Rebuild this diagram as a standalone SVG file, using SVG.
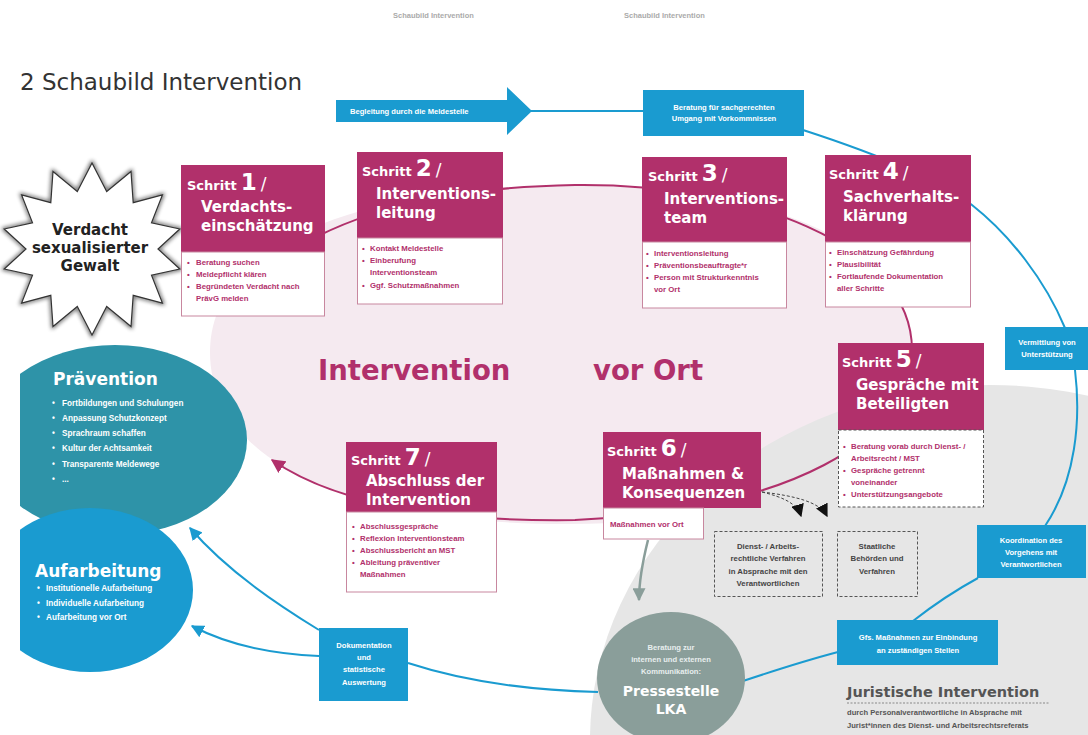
<svg xmlns="http://www.w3.org/2000/svg" width="1088" height="735" viewBox="0 0 1088 735">
<defs>
<style>
.hdr{fill:#b1306b}
.body{fill:#fff;stroke:#c8879f;stroke-width:1}
.sch{font-family:"DejaVu Sans",sans-serif;font-weight:bold;font-size:13px;fill:#fff}
.num{font-size:23px}
.sl{font-size:17px;font-weight:normal}
.ttl{font-family:"DejaVu Sans",sans-serif;font-weight:bold;font-size:15px;fill:#fff}
.bt{font-family:"Liberation Sans",Arial,sans-serif;font-weight:bold;font-size:7.8px;fill:#b1306b}
.wt{font-family:"Liberation Sans",Arial,sans-serif;font-weight:bold;font-size:7.6px;fill:#fff;text-anchor:middle}
.pt{font-family:"Liberation Sans",Arial,sans-serif;font-weight:bold;font-size:8.2px;fill:#fff}
.dt{font-family:"Liberation Sans",Arial,sans-serif;font-weight:bold;font-size:7.8px;fill:#444;text-anchor:middle}
.bbox{fill:#1a9bd0}
.bl{fill:none;stroke:#1a9bd0;stroke-width:2}
.ml{fill:none;stroke:#b1306b;stroke-width:2}
.dash{fill:none;stroke:#444;stroke-width:1;stroke-dasharray:3 2}
</style>
<marker id="mM" viewBox="0 0 10 10" refX="9" refY="5" markerWidth="14" markerHeight="14" markerUnits="userSpaceOnUse" orient="auto"><path d="M0,0 L10,5 L0,10 z" fill="#b1306b"/></marker>
<marker id="mB" viewBox="0 0 10 10" refX="9" refY="5" markerWidth="13" markerHeight="13" markerUnits="userSpaceOnUse" orient="auto"><path d="M0,0 L10,5 L0,10 z" fill="#1a9bd0"/></marker>
<marker id="mG" viewBox="0 0 10 10" refX="9" refY="5" markerWidth="13" markerHeight="13" markerUnits="userSpaceOnUse" orient="auto"><path d="M0,0 L10,5 L0,10 z" fill="#8a9e9a"/></marker>
<marker id="mK" viewBox="0 0 10 10" refX="9" refY="5" markerWidth="13" markerHeight="13" markerUnits="userSpaceOnUse" orient="auto"><path d="M0,0 L10,5 L0,10 z" fill="#111"/></marker>
<clipPath id="leftClip"><rect x="20" y="0" width="1068" height="735"/></clipPath>
<filter id="glow" x="-20%" y="-20%" width="140%" height="140%"><feGaussianBlur stdDeviation="2"/></filter>
</defs>
<rect width="1088" height="735" fill="#fff"/>

<g id="header">
<text x="393" y="18" font-family="Liberation Sans, Arial, sans-serif" font-weight="bold" font-size="7.5" fill="#aaa">Schaubild Intervention</text>
<text x="624" y="18" font-family="Liberation Sans, Arial, sans-serif" font-weight="bold" font-size="7.5" fill="#aaa">Schaubild Intervention</text>
<text x="20" y="90" font-family="DejaVu Sans, sans-serif" font-size="23" fill="#333">2 Schaubild Intervention</text>
</g>

<g id="backgrounds">
<path id="interventionArea" d="M210,352 C210,250 345,186 575,186 C785,186 912,250 912,352 C912,460 785,524 565,524 C345,524 210,460 210,352 Z" fill="#f5eaf0"/>
<ellipse id="juristischArea" cx="990" cy="740" rx="400" ry="355" fill="#e6e6e6"/>
<g clip-path="url(#leftClip)">
<ellipse id="praeventionShape" cx="115" cy="440" rx="132" ry="95" fill="#2e93a8"/>
<ellipse id="aufarbeitungShape" cx="90" cy="590" rx="103" ry="82" fill="#1a9bd0"/>
</g>
</g>

<g id="connectors">
<path class="ml" d="M318,236 C385,203 465,187 575,185 C745,183 912,243 912,350 C912,440 790,510 575,520 C430,522 330,500 272,460" marker-end="url(#mM)"/>
<line class="bl" x1="531" y1="111" x2="644" y2="111"/>
<path class="bl" d="M803,130 C880,155 940,180 972,205 C1010,235 1045,280 1065,328"/>
<path class="bl" d="M1075,370 C1081,420 1076,480 1045,526"/>
<path class="bl" d="M978,578 Q945,596 913,621"/>
<path class="bl" d="M838,652 C800,662 770,672 743,681"/>
<path class="bl" d="M598,692 C520,690 460,680 408,663"/>
<path class="bl" d="M319,630 C280,606 228,572 190,528" marker-end="url(#mB)"/>
<path class="bl" d="M319,656 C270,654 228,645 192,626" marker-end="url(#mB)"/>
<path d="M648,540 C643,560 639,578 639,600" fill="none" stroke="#8a9e9a" stroke-width="2.5" marker-end="url(#mG)"/>
<path class="dash" d="M762,492 C782,497 797,503 801,516" marker-end="url(#mK)"/>
<path class="dash" d="M762,492 C795,496 820,502 827,516" marker-end="url(#mK)"/>
</g>

<g id="bigLabels">
<text x="318" y="380" font-family="DejaVu Sans, sans-serif" font-weight="bold" font-size="27.5" fill="#b1306b">Intervention</text>
<text x="593" y="380" font-family="DejaVu Sans, sans-serif" font-weight="bold" font-size="27.5" fill="#b1306b">vor Ort</text>
</g>

<g id="verdacht">
<polygon points="92,163 106.7,191.5 131,171.5 133.2,202.7 162.4,195 151.5,222.8 179.8,229 158,249 179.8,269 151.5,275.2 162.4,303 133.2,295.3 131,326.5 106.7,306.5 92,335 77.3,306.5 53,326.5 50.8,295.3 21.6,303 32.5,275.2 4.2,269 26,249 4.2,229 32.5,222.8 21.6,195 50.8,202.7 53,171.5 77.3,191.5" fill="none" stroke="#000" stroke-width="3" opacity="0.7" filter="url(#glow)"/>
<polygon points="92,163 106.7,191.5 131,171.5 133.2,202.7 162.4,195 151.5,222.8 179.8,229 158,249 179.8,269 151.5,275.2 162.4,303 133.2,295.3 131,326.5 106.7,306.5 92,335 77.3,306.5 53,326.5 50.8,295.3 21.6,303 32.5,275.2 4.2,269 26,249 4.2,229 32.5,222.8 21.6,195 50.8,202.7 53,171.5 77.3,191.5" fill="#fff" stroke="#333" stroke-width="1.2"/>
<text font-family="DejaVu Sans, sans-serif" font-weight="bold" font-size="15" fill="#222" text-anchor="middle"><tspan x="90" y="235">Verdacht</tspan><tspan x="90" y="253">sexualisierter</tspan><tspan x="90" y="271">Gewalt</tspan></text>
</g>

<g id="step1">
<rect class="hdr" x="181" y="165" width="144" height="87"/>
<rect class="body" x="181.5" y="252" width="143" height="64"/>
<text class="sch" x="187" y="190">Schritt<tspan class="num" dx="4">1</tspan><tspan class="sl" dx="4">/</tspan></text>
<text class="ttl" x="201" y="212">Verdachts-</text>
<text class="ttl" x="201" y="231">einschätzung</text>
<text class="bt"><tspan x="187" y="265">•</tspan><tspan x="196" y="265">Beratung suchen</tspan></text>
<text class="bt"><tspan x="187" y="277">•</tspan><tspan x="196" y="277">Meldepflicht klären</tspan></text>
<text class="bt"><tspan x="187" y="289">•</tspan><tspan x="196" y="289">Begründeten Verdacht nach</tspan></text>
<text class="bt" x="196" y="301">PrävG melden</text>
</g>

<g id="step2">
<rect class="hdr" x="357" y="152" width="146" height="86"/>
<rect class="body" x="357.5" y="238" width="145" height="66"/>
<text class="sch" x="362" y="176">Schritt<tspan class="num" dx="4">2</tspan><tspan class="sl" dx="4">/</tspan></text>
<text class="ttl" x="376" y="199">Interventions-</text>
<text class="ttl" x="376" y="218">leitung</text>
<text class="bt"><tspan x="362" y="251">•</tspan><tspan x="370" y="251">Kontakt Meldestelle</tspan></text>
<text class="bt"><tspan x="362" y="263">•</tspan><tspan x="370" y="263">Einberufung</tspan></text>
<text class="bt" x="370" y="275">Interventionsteam</text>
<text class="bt"><tspan x="362" y="288">•</tspan><tspan x="370" y="288">Ggf. Schutzmaßnahmen</tspan></text>
</g>

<g id="step3">
<rect class="hdr" x="642" y="157" width="145" height="85"/>
<rect class="body" x="642.5" y="242" width="144" height="66"/>
<text class="sch" x="648" y="181">Schritt<tspan class="num" dx="4">3</tspan><tspan class="sl" dx="4">/</tspan></text>
<text class="ttl" x="664" y="204">Interventions-</text>
<text class="ttl" x="664" y="223">team</text>
<text class="bt"><tspan x="646" y="256">•</tspan><tspan x="654" y="256">Interventionsleitung</tspan></text>
<text class="bt"><tspan x="646" y="268">•</tspan><tspan x="654" y="268">Präventionsbeauftragte*r</tspan></text>
<text class="bt"><tspan x="646" y="280">•</tspan><tspan x="654" y="280">Person mit Strukturkenntnis</tspan></text>
<text class="bt" x="654" y="292">vor Ort</text>
</g>

<g id="step4">
<rect class="hdr" x="825" y="155" width="146" height="87"/>
<rect class="body" x="825.5" y="242" width="145" height="65"/>
<text class="sch" x="829" y="179">Schritt<tspan class="num" dx="4">4</tspan><tspan class="sl" dx="4">/</tspan></text>
<text class="ttl" x="843" y="202">Sachverhalts-</text>
<text class="ttl" x="843" y="221">klärung</text>
<text class="bt"><tspan x="829" y="255">•</tspan><tspan x="837" y="255">Einschätzung Gefährdung</tspan></text>
<text class="bt"><tspan x="829" y="267">•</tspan><tspan x="837" y="267">Plausibilität</tspan></text>
<text class="bt"><tspan x="829" y="279">•</tspan><tspan x="837" y="279">Fortlaufende Dokumentation</tspan></text>
<text class="bt" x="837" y="291">aller Schritte</text>
</g>

<g id="step5">
<rect class="hdr" x="838" y="343" width="146" height="87"/>
<rect x="838.5" y="430" width="145" height="77" fill="#fff" stroke="#555" stroke-width="1" stroke-dasharray="3 2"/>
<text class="sch" x="842" y="367">Schritt<tspan class="num" dx="4">5</tspan><tspan class="sl" dx="4">/</tspan></text>
<text class="ttl" x="856" y="390">Gespräche mit</text>
<text class="ttl" x="856" y="409">Beteiligten</text>
<text class="bt"><tspan x="843" y="449">•</tspan><tspan x="851" y="449">Beratung vorab durch Dienst- /</tspan></text>
<text class="bt" x="851" y="461">Arbeitsrecht / MST</text>
<text class="bt"><tspan x="843" y="473">•</tspan><tspan x="851" y="473">Gespräche getrennt</tspan></text>
<text class="bt" x="851" y="485">voneinander</text>
<text class="bt"><tspan x="843" y="497">•</tspan><tspan x="851" y="497">Unterstützungsangebote</tspan></text>
</g>

<g id="step6">
<rect class="hdr" x="603" y="432" width="158" height="76"/>
<rect class="body" x="603.5" y="508" width="100" height="31"/>
<text class="sch" x="607" y="456">Schritt<tspan class="num" dx="4">6</tspan><tspan class="sl" dx="4">/</tspan></text>
<text class="ttl" x="622" y="479">Maßnahmen &amp;</text>
<text class="ttl" x="622" y="498">Konsequenzen</text>
<text class="bt" x="610" y="527">Maßnahmen vor Ort</text>
</g>

<g id="step7">
<rect class="hdr" x="346" y="442" width="151" height="70"/>
<rect class="body" x="346.5" y="512" width="150" height="80"/>
<text class="sch" x="351" y="465">Schritt<tspan class="num" dx="4">7</tspan><tspan class="sl" dx="4">/</tspan></text>
<text class="ttl" x="366" y="486">Abschluss der</text>
<text class="ttl" x="366" y="505">Intervention</text>
<text class="bt"><tspan x="352" y="529">•</tspan><tspan x="360" y="529">Abschlussgespräche</tspan></text>
<text class="bt"><tspan x="352" y="541">•</tspan><tspan x="360" y="541">Reflexion Interventionsteam</tspan></text>
<text class="bt"><tspan x="352" y="553">•</tspan><tspan x="360" y="553">Abschlussbericht an MST</tspan></text>
<text class="bt"><tspan x="352" y="565">•</tspan><tspan x="360" y="565">Ableitung präventiver</tspan></text>
<text class="bt" x="360" y="577">Maßnahmen</text>
</g>

<g id="dienstrecht">
<rect x="714.5" y="531.5" width="108" height="65" fill="none" stroke="#555" stroke-width="1" stroke-dasharray="3 2"/>
<text class="dt"><tspan x="768" y="549">Dienst- / Arbeits-</tspan><tspan x="768" y="561">rechtliche Verfahren</tspan><tspan x="768" y="574">in Absprache mit den</tspan><tspan x="768" y="586">Verantwortlichen</tspan></text>
</g>
<g id="staatlich">
<rect x="837.5" y="531.5" width="80" height="65" fill="none" stroke="#555" stroke-width="1" stroke-dasharray="3 2"/>
<text class="dt"><tspan x="877" y="549">Staatliche</tspan><tspan x="877" y="561">Behörden und</tspan><tspan x="877" y="574">Verfahren</tspan></text>
</g>

<g id="begleitung">
<polygon class="bbox" points="336,100 507,100 507,87 532,111 507,135 507,122 336,122"/>
<text class="wt" x="350" y="113.5" style="text-anchor:start">Begleitung durch die Meldestelle</text>
</g>
<g id="beratung">
<rect class="bbox" x="643" y="90" width="161" height="46"/>
<text class="wt"><tspan x="724" y="110">Beratung für sachgerechten</tspan><tspan x="724" y="121">Umgang mit Vorkommnissen</tspan></text>
</g>
<g id="vermittlung">
<rect class="bbox" x="1005" y="327" width="83" height="43"/>
<text class="wt"><tspan x="1047" y="345">Vermittlung von</tspan><tspan x="1047" y="357">Unterstützung</tspan></text>
</g>
<g id="koordination">
<rect class="bbox" x="977" y="525" width="109" height="53"/>
<text class="wt"><tspan x="1031" y="543">Koordination des</tspan><tspan x="1031" y="555">Vorgehens mit</tspan><tspan x="1031" y="567">Verantwortlichen</tspan></text>
</g>
<g id="gfs">
<rect class="bbox" x="837" y="620" width="161" height="45"/>
<text class="wt"><tspan x="918" y="640">Gfs. Maßnahmen zur Einbindung</tspan><tspan x="918" y="653">an zuständigen Stellen</tspan></text>
</g>
<g id="dokumentation">
<rect class="bbox" x="319" y="628" width="89" height="73"/>
<text class="wt"><tspan x="364" y="648">Dokumentation</tspan><tspan x="364" y="660">und</tspan><tspan x="364" y="672">statistische</tspan><tspan x="364" y="685">Auswertung</tspan></text>
</g>

<g id="pressestelle">
<ellipse cx="671" cy="678" rx="74" ry="66" fill="#8a9e9a"/>
<text font-family="Liberation Sans, Arial, sans-serif" font-weight="bold" font-size="7.6" fill="#e8eeee" text-anchor="middle"><tspan x="671" y="650">Beratung zur</tspan><tspan x="671" y="662">internen und externen</tspan><tspan x="671" y="674">Kommunikation:</tspan></text>
<text font-family="DejaVu Sans, sans-serif" font-weight="bold" font-size="14" fill="#fff" text-anchor="middle" x="671" y="696">Pressestelle</text>
<text font-family="DejaVu Sans, sans-serif" font-weight="bold" font-size="14" fill="#fff" text-anchor="middle" x="671" y="714">LKA</text>
</g>

<g id="praevention">
<text x="53" y="385" font-family="DejaVu Sans, sans-serif" font-weight="bold" font-size="17" fill="#fff">Prävention</text>
<text class="pt"><tspan x="52" y="406">•</tspan><tspan x="62" y="406">Fortbildungen und Schulungen</tspan></text>
<text class="pt"><tspan x="52" y="421">•</tspan><tspan x="62" y="421">Anpassung Schutzkonzept</tspan></text>
<text class="pt"><tspan x="52" y="436">•</tspan><tspan x="62" y="436">Sprachraum schaffen</tspan></text>
<text class="pt"><tspan x="52" y="451">•</tspan><tspan x="62" y="451">Kultur der Achtsamkeit</tspan></text>
<text class="pt"><tspan x="52" y="467">•</tspan><tspan x="62" y="467">Transparente Meldewege</tspan></text>
<text class="pt"><tspan x="52" y="482">•</tspan><tspan x="62" y="482">...</tspan></text>
</g>

<g id="aufarbeitung">
<text x="35" y="577" font-family="DejaVu Sans, sans-serif" font-weight="bold" font-size="17" fill="#fff">Aufarbeitung</text>
<text class="pt"><tspan x="37" y="591">•</tspan><tspan x="46" y="591">Institutionelle Aufarbeitung</tspan></text>
<text class="pt"><tspan x="37" y="606">•</tspan><tspan x="46" y="606">Individuelle Aufarbeitung</tspan></text>
<text class="pt"><tspan x="37" y="620">•</tspan><tspan x="46" y="620">Aufarbeitung vor Ort</tspan></text>
</g>

<g id="juristisch">
<text x="847" y="697" font-family="DejaVu Sans, sans-serif" font-weight="bold" font-size="14.5" fill="#555">Juristische Intervention</text>
<line x1="847" y1="703" x2="1050" y2="703" stroke="#888" stroke-width="1" stroke-dasharray="2 1.5"/>
<text font-family="Liberation Sans, Arial, sans-serif" font-weight="bold" font-size="7.6" fill="#555"><tspan x="847" y="715">durch Personalverantwortliche in Absprache mit</tspan><tspan x="847" y="728">Jurist*innen des Dienst- und Arbeitsrechtsreferats</tspan></text>
</g>
</svg>
